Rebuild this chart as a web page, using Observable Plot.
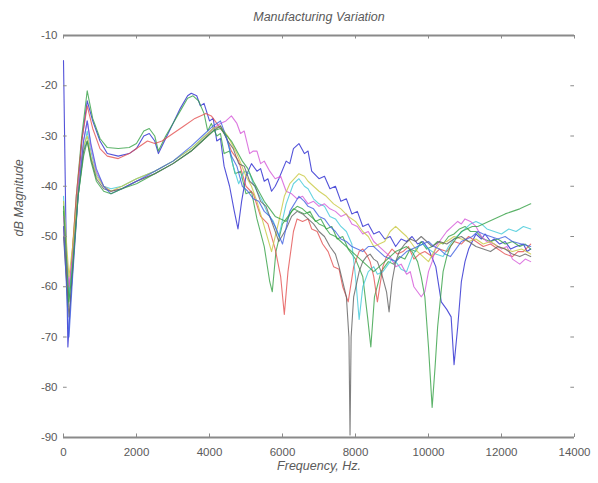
<!DOCTYPE html>
<html>
<head>
<meta charset="utf-8">
<script src="https://cdn.jsdelivr.net/npm/d3@7"></script>
<script src="https://cdn.jsdelivr.net/npm/@observablehq/plot@0.6"></script>
<style>
  html, body { margin: 0; padding: 0; background: #fff; }
</style>
</head>
<body>
<div id="chart"></div>
<script>
// ---- Data (frequency Hz, dB magnitude) ----
const titleText = "Manufacturing Variation";
const xLabel = "Frequency, Hz.";
const yLabel = "dB Magnitude";
const xTicks = [0, 2000, 4000, 6000, 8000, 10000, 12000, 14000];
const yTicks = [-10, -20, -30, -40, -50, -60, -70, -80, -90];

const seriesNames  = ["blue1", "green1", "red", "cyan", "magenta", "yellow", "black", "blue2", "green2"];
const seriesColors = ["#2828d0", "#35a045", "#e45050", "#40c8d8", "#d458d8", "#c8c840", "#606060", "#4060e0", "#35a045"];

const blue1 = [[0,-15],[60,-45],[120,-72],[200,-62],[350,-45],[500,-31],[650,-23],[800,-27],[1000,-31],[1200,-33.5],[1500,-34],[1800,-33.5],[2000,-32.5],[2200,-30],[2350,-29.5],[2500,-31],[2600,-33.5],[2800,-30.5],[3000,-27.5],[3200,-24.5],[3400,-22],[3500,-21.5],[3650,-22],[3750,-24],[3850,-23.5],[4000,-27],[4100,-26.5],[4200,-31],[4300,-30.5],[4400,-36],[4550,-40],[4680,-45],[4780,-48.5],[4880,-43],[5000,-38],[5150,-35.5],[5300,-37],[5400,-36.5],[5500,-39],[5600,-38.5],[5700,-41],[5800,-40],[5900,-38.5],[6100,-35],[6200,-35.5],[6300,-32.5],[6450,-31.5],[6600,-33.5],[6700,-33],[6800,-37],[7000,-38.5],[7150,-38],[7300,-40.5],[7450,-40],[7600,-43],[7750,-42.5],[7900,-45.5],[8050,-45],[8200,-48],[8350,-47.5],[8500,-49.5],[8650,-49],[8800,-50.5],[8950,-50],[9100,-52],[9250,-50.5],[9400,-51],[9550,-50],[9700,-51.5],[9850,-51],[10000,-52.5],[10200,-56],[10350,-63],[10500,-64.5],[10620,-66],[10700,-75.5],[10800,-68],[10900,-59],[11000,-55],[11100,-52.5],[11200,-51],[11300,-49.5],[11450,-50.5],[11550,-49.5],[11700,-51],[11800,-50.5],[11950,-51.5],[12100,-51],[12250,-52.5],[12400,-52],[12600,-51.5],[12700,-53],[12800,-52.5]];
const green1 = [[0,-45],[120,-64],[200,-58],[350,-42],[500,-30],[650,-21],[800,-26.5],[1000,-30.5],[1200,-32.3],[1500,-32.5],[1800,-32.3],[2000,-31.5],[2200,-29],[2350,-28.5],[2500,-30],[2600,-33],[2800,-30],[3000,-27.5],[3200,-25],[3400,-22.5],[3550,-22],[3700,-23],[3850,-25.5],[3950,-29],[4050,-27.5],[4200,-30],[4300,-29.5],[4400,-33.5],[4550,-33],[4700,-37.5],[4850,-37],[5000,-41.5],[5150,-41],[5300,-46.5],[5500,-52],[5650,-59],[5720,-61],[5820,-53],[6000,-47.5],[6150,-46],[6300,-44.5],[6450,-45],[6600,-45.5],[6750,-45],[6900,-47],[7050,-46.5],[7200,-48.5],[7350,-48],[7500,-50.5],[7650,-50],[7800,-52.5],[8000,-54.5],[8200,-58],[8330,-66],[8420,-72],[8520,-62],[8700,-57],[8900,-55],[9050,-55.5],[9200,-54],[9350,-54.5],[9500,-52.5],[9650,-53],[9800,-51],[9950,-52.5],[10100,-52],[10250,-51],[10400,-51.5],[10550,-50],[10700,-49.5],[10850,-48.5],[11000,-48],[11150,-49],[11300,-49],[11500,-50.5],[11700,-51],[11900,-50.5],[12100,-51.5],[12300,-51],[12500,-52],[12650,-51.5],[12800,-52.5]];
const red = [[0,-48],[120,-62],[200,-57],[350,-42],[500,-31],[650,-24],[800,-28.5],[1000,-32.5],[1200,-34],[1500,-34.5],[1800,-33.5],[2000,-32.5],[2300,-31],[2500,-31.5],[2700,-31],[3000,-29.5],[3300,-28],[3600,-26.5],[3900,-25.5],[4050,-26],[4200,-27.5],[4300,-28.5],[4450,-30],[4600,-33],[4800,-35],[5000,-40],[5200,-41.5],[5400,-46],[5600,-47.5],[5800,-52.5],[5950,-58],[6050,-65.5],[6150,-57],[6300,-49],[6400,-46.5],[6550,-47],[6700,-46.5],[6800,-48.5],[6950,-49],[7100,-51.5],[7250,-53],[7400,-56],[7550,-56.5],[7650,-60],[7800,-63],[7950,-56],[8100,-53],[8200,-52.5],[8300,-53.5],[8400,-55],[8500,-58],[8600,-63],[8750,-56],[8850,-54],[9000,-52.5],[9150,-53.5],[9300,-53],[9450,-52],[9600,-54.5],[9750,-53.5],[9900,-53],[10100,-54],[10300,-52.5],[10500,-53],[10700,-51],[10900,-51.5],[11100,-50],[11300,-51],[11500,-52],[11700,-51.5],[11900,-52.5],[12100,-53.5],[12300,-54],[12450,-53],[12600,-53],[12800,-51.5]];
const cyan = [[0,-42],[150,-62],[250,-55],[400,-42],[550,-33],[650,-29],[750,-33],[900,-37.5],[1100,-40],[1300,-40.5],[1600,-40],[2000,-38.5],[2500,-37],[3000,-35],[3500,-32.5],[3800,-30.5],[4100,-28.5],[4300,-28],[4500,-31],[4650,-36],[4800,-39.5],[4950,-37],[5100,-37.5],[5200,-39.5],[5300,-41],[5450,-43],[5600,-45.5],[5750,-47],[5900,-50],[6100,-43.5],[6300,-39.5],[6450,-38.5],[6600,-40],[6700,-40.5],[6850,-42.5],[7000,-43.5],[7150,-44],[7300,-46],[7450,-46.5],[7600,-48],[7750,-49],[7900,-51.5],[8000,-58],[8100,-66.5],[8200,-60],[8350,-57],[8500,-56],[8600,-57.5],[8750,-57],[8850,-56],[9000,-54.5],[9100,-55],[9250,-56.5],[9400,-57],[9550,-54],[9700,-52],[9850,-51.5],[10000,-52.5],[10200,-53.5],[10400,-54],[10550,-52],[10700,-50.5],[10850,-49.5],[11000,-48.5],[11150,-47.5],[11300,-47],[11450,-47.5],[11600,-48.5],[11800,-49],[12000,-49.5],[12200,-48.5],[12400,-49],[12600,-48],[12800,-48.5]];
const magenta = [[0,-46],[150,-60],[250,-54],[400,-40],[550,-31],[650,-27],[750,-32],[900,-37],[1100,-40],[1300,-41],[1600,-40.5],[2000,-39],[2500,-37.5],[3000,-35.5],[3500,-33],[3800,-31],[4100,-28.5],[4300,-27.5],[4450,-27],[4600,-26],[4750,-27.5],[4850,-29.5],[4950,-29],[5100,-33.5],[5200,-33],[5300,-33],[5400,-35.5],[5500,-35],[5650,-37],[5800,-38.5],[5950,-38],[6100,-41],[6250,-41.5],[6400,-42.5],[6550,-42],[6700,-43.5],[6850,-43],[7000,-44],[7150,-43.5],[7300,-44.5],[7450,-45],[7600,-46],[7750,-45.5],[7900,-47.5],[8050,-48],[8200,-49.5],[8350,-49],[8500,-51],[8650,-52],[8800,-53],[8950,-54],[9100,-56],[9250,-55.5],[9400,-57.5],[9500,-57],[9600,-60],[9700,-61],[9800,-62],[9900,-61],[10000,-57],[10100,-55],[10200,-52],[10350,-50.5],[10500,-49],[10650,-48],[10800,-47],[10900,-47.5],[11000,-46.5],[11150,-47],[11300,-48],[11450,-50],[11600,-51],[11800,-51.5],[12000,-52.5],[12150,-52],[12300,-54.5],[12500,-55.5],[12650,-54.5],[12800,-55]];
const yellow = [[0,-43],[150,-58],[250,-52],[400,-41],[550,-32],[650,-30],[750,-34],[900,-38],[1100,-40],[1300,-41],[1600,-40],[2000,-38.5],[2500,-37],[3000,-35],[3500,-32.5],[3800,-30.5],[4100,-28.5],[4300,-28],[4500,-30],[4750,-33.5],[5000,-38],[5150,-40],[5300,-43],[5500,-48],[5700,-53],[5900,-47],[6050,-42],[6200,-39.5],[6450,-37.5],[6600,-38],[6700,-39],[6850,-40],[7000,-41],[7200,-42],[7400,-43.5],[7600,-44.5],[7800,-46],[8000,-47],[8200,-49],[8350,-50],[8500,-52],[8650,-51.5],[8800,-51],[8950,-49],[9100,-48],[9250,-49],[9400,-50],[9550,-51.5],[9700,-53],[9850,-54],[10000,-55],[10150,-53],[10300,-51.5],[10500,-51],[10700,-50],[10900,-50.5],[11100,-51],[11300,-50.5],[11500,-51.5],[11700,-51],[11900,-52],[12100,-52.5],[12300,-53],[12550,-52.5],[12800,-53.5]];
const black = [[0,-50],[150,-66],[250,-57],[400,-42],[550,-33],[650,-31],[750,-34.5],[900,-38.5],[1100,-40.5],[1300,-41],[1600,-40.5],[2000,-39],[2500,-37.5],[3000,-35.5],[3500,-33],[3800,-31],[4100,-29],[4300,-28],[4500,-31],[4650,-32.5],[4800,-35.5],[4950,-36],[5100,-39],[5250,-40],[5400,-43],[5550,-44],[5700,-47],[5900,-51],[6100,-48.5],[6250,-46],[6400,-45],[6550,-45.5],[6700,-46.5],[6850,-47.5],[7000,-49],[7150,-50],[7300,-52],[7450,-53.5],[7550,-56],[7750,-62],[7820,-70],[7850,-89.5],[7880,-70],[7950,-62],[8100,-57],[8200,-55],[8300,-54],[8400,-53.5],[8500,-54.5],[8600,-55],[8700,-57],[8850,-61],[8920,-65],[9000,-59],[9100,-55],[9200,-53],[9350,-51.5],[9500,-50.5],[9650,-51],[9800,-50],[9950,-51],[10100,-52],[10300,-51],[10500,-51.5],[10700,-50.5],[10900,-50],[11100,-51],[11300,-52],[11500,-52.5],[11700,-53],[11900,-52],[12100,-52.5],[12300,-53.5],[12500,-54],[12650,-53.5],[12800,-54]];
const blue2 = [[0,-48],[150,-70],[250,-58],[400,-42],[550,-31],[650,-27],[750,-31.5],[900,-36.5],[1100,-40],[1300,-41.5],[1600,-40.5],[2000,-39],[2500,-37],[3000,-35],[3500,-32],[3800,-30],[4100,-28],[4300,-27],[4450,-30],[4600,-34],[4750,-36],[4900,-40],[5050,-41],[5200,-42.5],[5350,-43],[5500,-45],[5650,-46],[5800,-48],[6000,-51.5],[6200,-45],[6450,-42],[6600,-43],[6700,-44],[6850,-44.5],[7000,-46],[7150,-46.5],[7300,-48],[7450,-49],[7600,-50.5],[7750,-51],[7900,-52],[8050,-52.5],[8200,-53],[8350,-52],[8500,-52],[8650,-53],[8800,-54],[8950,-54.5],[9100,-55],[9250,-54],[9400,-53],[9550,-52.5],[9700,-52],[9850,-51.5],[10000,-51],[10150,-52],[10300,-52.5],[10450,-53.5],[10600,-54],[10750,-52.5],[10900,-51],[11050,-50.5],[11200,-50],[11350,-49],[11500,-49.5],[11700,-50],[11900,-50.5],[12100,-50],[12300,-51],[12550,-51.5],[12800,-52]];
const green2 = [[0,-44],[150,-63],[250,-56],[400,-42],[550,-34],[650,-31],[750,-35],[900,-39],[1100,-41],[1300,-41.5],[1600,-40.5],[2000,-39.5],[2500,-37.5],[3000,-35.5],[3500,-33],[3800,-31],[4100,-29],[4300,-28.5],[4600,-31],[4750,-33],[4900,-35],[5050,-36.5],[5200,-39],[5350,-41],[5500,-43],[5650,-44.5],[5800,-46],[5950,-46.5],[6100,-47],[6250,-45],[6400,-44],[6550,-44.5],[6700,-45.5],[6850,-46.5],[7000,-47.5],[7150,-48],[7300,-49.5],[7450,-50],[7600,-51],[7750,-52],[7900,-53],[8050,-54],[8200,-55],[8350,-56],[8500,-57],[8650,-56],[8800,-55],[8950,-54],[9100,-53],[9250,-52.5],[9400,-52],[9550,-53],[9700,-55],[9800,-58],[9900,-62],[10000,-72],[10100,-84],[10180,-76],[10250,-68],[10400,-57],[10500,-54],[10600,-52],[10750,-50.5],[10900,-49],[11050,-48.5],[11200,-48],[11350,-48],[11500,-47.5],[11650,-47],[11800,-46.5],[11950,-46],[12100,-45.5],[12300,-45],[12500,-44.5],[12650,-44],[12800,-43.5]];

const seriesData = [blue1, green1, red, cyan, magenta, yellow, black, blue2, green2];

// ---- Build table ----
const rows = seriesData.flatMap((arr, i) =>
  arr.map(([f, db]) => ({f, db, s: seriesNames[i]})));

const font = "'Liberation Sans', Arial, Helvetica, sans-serif";
const axisColor = "#8a8a8a";
const textColor = "#5a5a5a";

const chart = Plot.plot({
  width: 598,
  height: 483,
  marginLeft: 63,
  marginRight: 24,
  marginTop: 35,
  marginBottom: 46,
  style: {fontFamily: font, fontSize: "11px", color: textColor, background: "#fff"},
  x: {domain: [0, 14000], label: null},
  y: {domain: [-90, -10], label: null},
  color: {domain: seriesNames, range: seriesColors},
  marks: [
    Plot.line(rows, {x: "f", y: "db", z: "s", stroke: "s", strokeWidth: 1.1, strokeOpacity: 0.8}),
    // frame lines top & bottom
    Plot.ruleY([-10, -90], {stroke: axisColor, strokeWidth: 2}),
    // inward ticks
    Plot.ruleX(xTicks, {y1: -90, y2: -89.3, stroke: axisColor}),
    Plot.ruleX(xTicks, {y1: -10, y2: -10.7, stroke: axisColor}),
    Plot.ruleY(yTicks, {x1: 0, x2: 100, stroke: axisColor}),
    Plot.ruleY(yTicks, {x1: 14000, x2: 13900, stroke: axisColor}),
    // tick labels
    Plot.axisX({ticks: xTicks, tickSize: 0, tickPadding: 10, tickFormat: d => String(d), fontSize: 11.5, label: null}),
    Plot.axisY({ticks: yTicks, tickSize: 0, tickPadding: 6, tickFormat: d => String(d), fontSize: 11.5, label: null}),
    // title & axis labels
    Plot.text([titleText], {frameAnchor: "top", dy: -23, fontSize: 12.5, fontStyle: "italic", fill: textColor}),
    Plot.text([xLabel], {frameAnchor: "bottom", dy: 32, fontSize: 12.5, fontStyle: "italic", fill: textColor}),
    Plot.text([yLabel], {frameAnchor: "left", dx: -45, rotate: -90, fontSize: 12.5, fontStyle: "italic", fill: textColor})
  ]
});

document.getElementById("chart").appendChild(chart);
</script>
</body>
</html>
